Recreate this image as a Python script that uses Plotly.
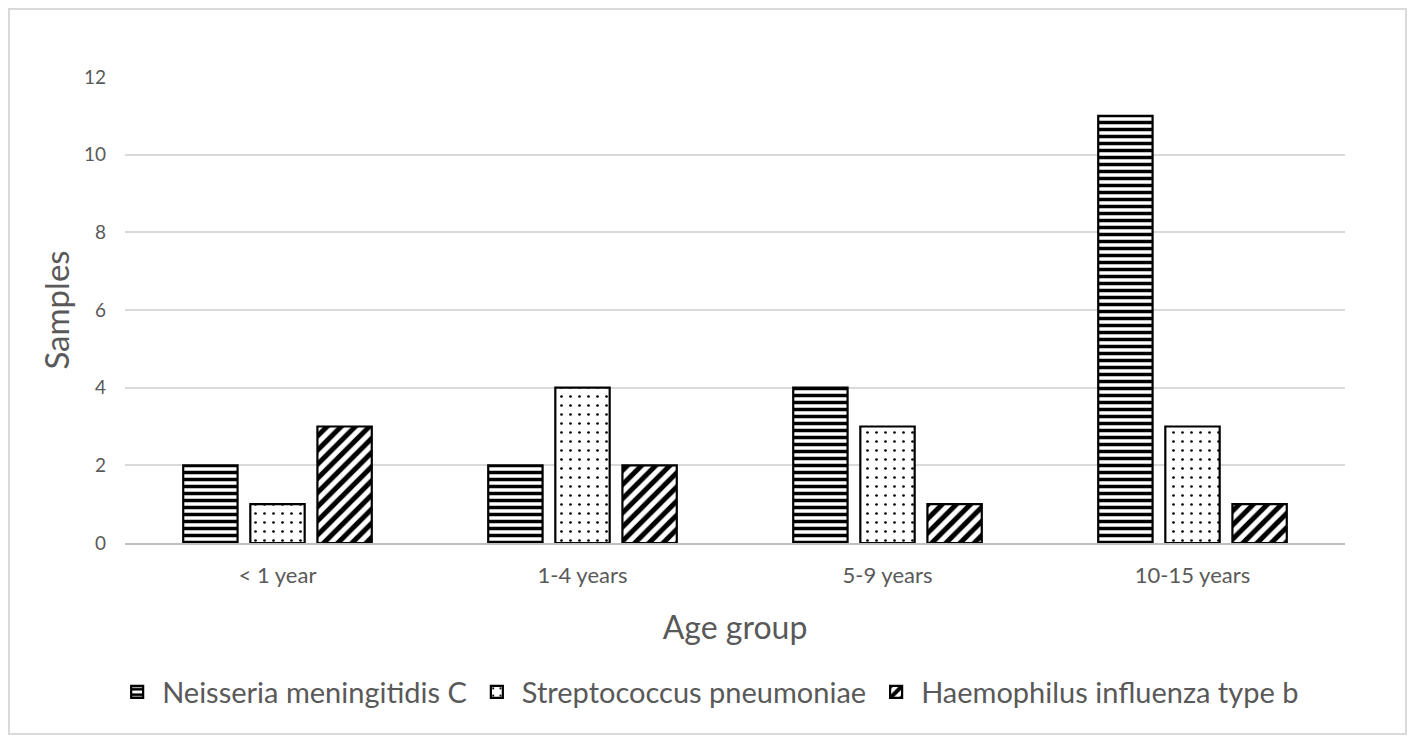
import plotly.graph_objects as go

age_groups = ["< 1 year", "1-4 years", "5-9 years", "10-15 years"]
series_names = [
    "Neisseria meningitidis C",
    "Streptococcus pneumoniae",
    "Haemophilus influenza type b",
]
neisseria = [2, 2, 4, 11]
streptococcus = [1, 4, 3, 3]
haemophilus = [3, 2, 1, 1]
y_ticks = [0, 2, 4, 6, 8, 10, 12]

FONT = "Lato"
TEXT = "#595959"

fig = go.Figure()

patterns = [
    {"shape": "-", "size": 7, "solidity": 0.5},
    {"shape": ".", "size": 9, "solidity": 0.07},
    {"shape": "/", "size": 10, "solidity": 0.5},
]

for name, values, pat in zip(series_names, [neisseria, streptococcus, haemophilus], patterns):
    fig.add_bar(
        name=name,
        x=age_groups,
        y=values,
        marker={
            "color": "white",
            "line": {"color": "black", "width": 2.2},
            # overlay mode would halve the pattern opacity, keep it solid black
            "pattern": {
                **pat,
                "fgcolor": "black",
                "bgcolor": "white",
                "fillmode": "overlay",
                "fgopacity": 1,
            },
        },
    )

# light grey frame round the whole chart, like the Excel chart area
fig.add_shape(
    type="rect",
    xref="paper",
    yref="paper",
    x0=-0.0951,
    x1=1.05,
    y0=-0.41,
    y1=1.1459,
    line={"color": "#d9d9d9", "width": 2},
    layer="below",
)

# page body has an 8px margin, so the figure is a bit smaller than the window
fig.update_layout(
    width=1409,
    height=735,
    margin={"l": 117, "r": 72, "t": 69, "b": 200},
    paper_bgcolor="white",
    plot_bgcolor="white",
    barmode="group",
    bargap=0.34,
    bargroupgap=0.19,
    font={"family": FONT, "color": TEXT},
    xaxis={
        "showline": True,
        "linecolor": "#bfbfbf",
        "linewidth": 2,
        "ticks": "",
        "ticklabelstandoff": 12,
        "tickfont": {"size": 22, "color": TEXT},
        "title": {"text": "Age group", "font": {"size": 32, "color": TEXT}, "standoff": 29},
    },
    yaxis={
        "range": [0, 12],
        "tickvals": y_ticks,
        "showgrid": True,
        "gridcolor": "#d9d9d9",
        "gridwidth": 1.5,
        "zeroline": False,
        "showline": False,
        "ticks": "",
        "ticklabelstandoff": 18,
        "tickfont": {"size": 19, "color": TEXT},
        "title": {"text": "Samples", "font": {"size": 33, "color": TEXT}, "standoff": 4},
    },
    legend={
        "orientation": "h",
        "x": 0.478,
        "xanchor": "center",
        "y": -0.32,
        "yanchor": "middle",
        "font": {"size": 29, "color": TEXT},
        "itemwidth": 40,
    },
)

fig.write_html("out.html")
